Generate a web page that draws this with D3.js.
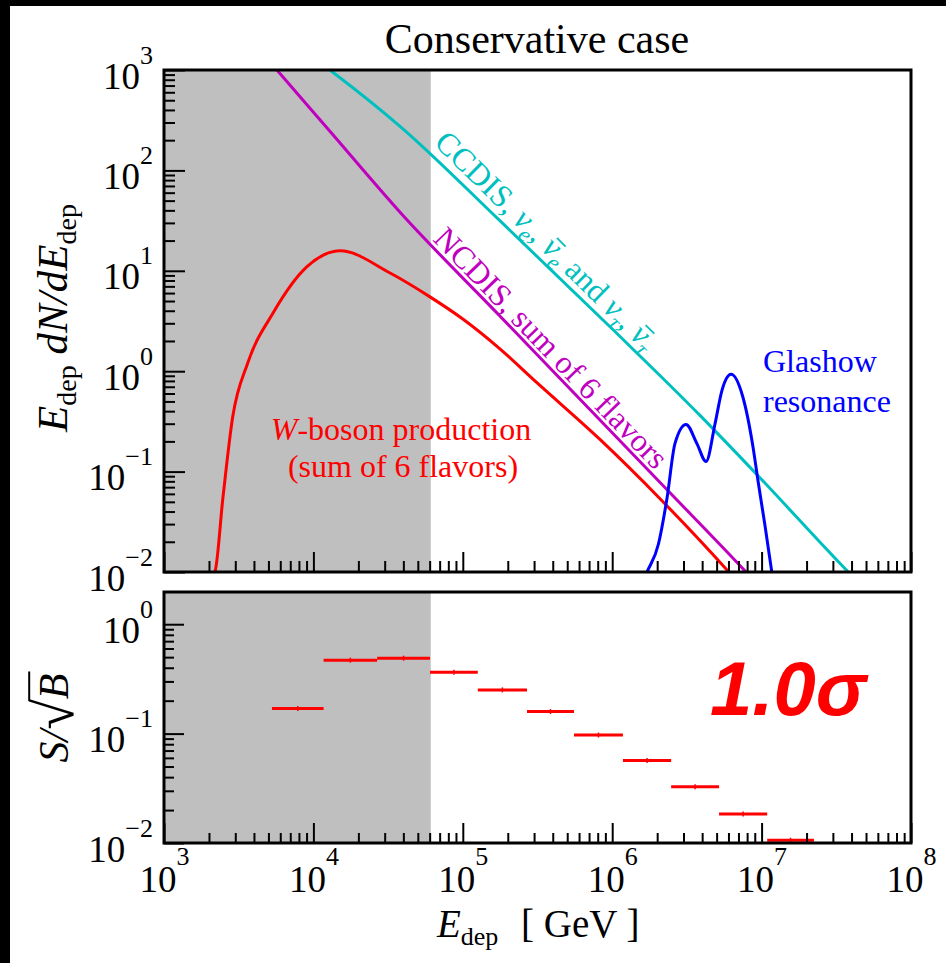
<!DOCTYPE html>
<html>
<head>
<meta charset="utf-8">
<script src="https://cdn.jsdelivr.net/npm/d3@7"></script>
<style>
  body { margin: 0; background: #fff; }
  svg { display: block; }
  text { font-family: "Liberation Serif", "Times New Roman", serif; }
</style>
</head>
<body>
<div id="chart"></div>
<script>
// ---- data ----
const xDecades = [1e3, 1e4, 1e5, 1e6, 1e7, 1e8];
const yTopDecades = [1e-2, 1e-1, 1e0, 1e1, 1e2, 1e3];
const yBotDecades = [1e-2, 1e-1, 1e0];
const shadeEnd = 6.1e4; // GeV, grey band upper edge

// CCDIS (nu_e, nubar_e, nu_tau, nubar_tau)
const ccdisE = [8.9e3, 1.29e4, 3.8e4, 1.77e5, 1.01e6, 3.87e6, 9.46e6, 3.8e7, 5.0e7];
const ccdisY = [1510, 1000, 275, 31.6, 2.6, 0.363, 0.091, 0.01, 0.0066];

// NCDIS, sum of 6 flavors
const ncdisE = [4.47e3, 5.7e3, 1.29e4, 3.8e4, 1.77e5, 2.33e6, 7.87e6, 1.0e7];
const ncdisY = [1510, 1000, 245, 38.3, 3.55, 0.066, 0.01, 0.0068];

// W-boson production
const wE = [1.41e3, 2.19e3, 2.48e3, 2.88e3, 3.63e3, 5.37e3, 9.06e3, 1.51e4, 3.26e4,
            6.03e4, 1.0e5, 1.78e5, 3.16e5, 8.28e5, 2.09e6, 6.03e6, 7.94e6];
const wY = [0.005, 0.01, 0.055, 0.347, 1.2, 3.8, 11.0, 15.8, 9.5,
            5.5, 3.31, 1.66, 0.759, 0.209, 0.0537, 0.01, 0.0063];

// Glashow resonance
const glE = [1.41e6, 1.71e6, 2.04e6, 2.33e6, 2.63e6, 3.12e6, 3.69e6, 4.25e6, 4.88e6,
             5.43e6, 6.24e6, 7.50e6, 8.77e6, 9.46e6, 1.05e7, 1.17e7, 1.26e7];
const glY = [0.005, 0.01, 0.019, 0.055, 0.19, 0.295, 0.19, 0.126, 0.30,
             0.645, 0.93, 0.55, 0.174, 0.081, 0.030, 0.01, 0.0045];

// S/sqrt(B) per bin
const binEdges = [5.28e3, 1.17e4, 2.67e4, 6.03e4, 1.26e5, 2.69e5, 5.55e5, 1.18e6,
                  2.48e6, 5.19e6, 1.09e7, 2.24e7];
const sOverSqrtB = [0.170, 0.469, 0.489, 0.364, 0.251, 0.159, 0.097, 0.0568,
                    0.0327, 0.0184, 0.0106];

// ---- layout ----
const width = 946, height = 963;
const left = 164, right = 911;
const top1 = 70, bottom1 = 572;
const top2 = 592, bottom2 = 843;

const svg = d3.select('#chart').append('svg')
  .attr('width', width).attr('height', height)
  .attr('viewBox', `0 0 ${width} ${height}`);

// black edges of the original screenshot
svg.append('rect').attr('x', 0).attr('y', 0).attr('width', width).attr('height', 6).attr('fill', '#000');
svg.append('rect').attr('x', 0).attr('y', 0).attr('width', 10).attr('height', height).attr('fill', '#000');

const x = d3.scaleLog().domain([1e3, 1e8]).range([left, right]);
const yTop = d3.scaleLog().domain([1e-2, 1e3]).range([bottom1, top1]);
const yBot = d3.scaleLog().domain([1e-2, 1.97]).range([bottom2, top2]);

const isDecade = v => Math.abs(Math.log10(v) - Math.round(Math.log10(v))) < 1e-9;

// grey band
[[top1, bottom1], [top2, bottom2]].forEach(([t, b]) => {
  svg.append('rect')
    .attr('x', x(1e3)).attr('y', t)
    .attr('width', x(shadeEnd) - x(1e3)).attr('height', b - t)
    .attr('fill', '#bfbfbf');
});

// clip for curves
svg.append('clipPath').attr('id', 'clipTop')
  .append('rect').attr('x', left).attr('y', top1)
  .attr('width', right - left).attr('height', bottom1 - top1);

const plotTop = svg.append('g').attr('clip-path', 'url(#clipTop)');

const curves = [
  { e: ccdisE, v: ccdisY, color: '#00bfbf' },
  { e: ncdisE, v: ncdisY, color: '#bf00bf' },
  { e: wE, v: wY, color: '#ff0000' },
  { e: glE, v: glY, color: '#0000ff' },
];

const line = d3.line()
  .x(d => x(d[0]))
  .y(d => yTop(d[1]))
  .curve(d3.curveMonotoneX);

curves.forEach(c => {
  plotTop.append('path')
    .datum(c.e.map((e, i) => [e, c.v[i]]))
    .attr('d', line)
    .attr('fill', 'none')
    .attr('stroke', c.color)
    .attr('stroke-width', 3);
});

// bottom panel bars
const bars = sOverSqrtB.map((v, i) => ({ lo: binEdges[i], hi: binEdges[i + 1], v }));
const barG = svg.append('g');
barG.selectAll('line.bar').data(bars).join('line')
  .attr('class', 'bar')
  .attr('x1', d => x(d.lo)).attr('x2', d => x(d.hi))
  .attr('y1', d => yBot(d.v)).attr('y2', d => yBot(d.v))
  .attr('stroke', '#ff0000').attr('stroke-width', 3);
barG.selectAll('line.err').data(bars).join('line')
  .attr('class', 'err')
  .attr('x1', d => x(Math.sqrt(d.lo * d.hi))).attr('x2', d => x(Math.sqrt(d.lo * d.hi)))
  .attr('y1', d => yBot(d.v) - 2.5).attr('y2', d => yBot(d.v) + 2.5)
  .attr('stroke', '#ff0000').attr('stroke-width', 1.5);

// ---- axes ----
function styleAxis(g) {
  g.select('.domain').remove();
  g.selectAll('.tick line').attr('stroke', '#000').attr('stroke-width', 2);
}

function powerLabels(g, anchor, baseDy, expRaise) {
  g.selectAll('.tick text').each(function (d) {
    const t = d3.select(this);
    const p = Math.round(Math.log10(d));
    t.text(null)
      .attr('fill', '#000')
      .attr('text-anchor', anchor)
      .attr('dy', null)
      .attr('y', anchor === 'middle' ? baseDy : null)
      .style('font-family', '"Liberation Serif", "Times New Roman", serif');
    if (anchor === 'end') t.attr('dy', baseDy);
    t.append('tspan').attr('font-size', 37).text('10');
    t.append('tspan').attr('font-size', 26).attr('dy', -expRaise)
      .text(p < 0 ? '\u2212' + Math.abs(p) : String(p));
  });
}

// top panel y
svg.append('g').attr('transform', `translate(${left},0)`)
  .call(d3.axisLeft(yTop).tickValues(yTop.ticks().filter(v => !isDecade(v)))
    .tickSize(-11).tickFormat(''))
  .call(styleAxis);
svg.append('g').attr('transform', `translate(${left},0)`)
  .call(d3.axisLeft(yTop).tickValues(yTopDecades).tickSize(-21).tickPadding(11))
  .call(styleAxis)
  .call(g => powerLabels(g, 'end', 18, 25));

// top panel x (ticks only)
svg.append('g').attr('transform', `translate(0,${bottom1})`)
  .call(d3.axisBottom(x).tickValues(x.ticks().filter(v => !isDecade(v)))
    .tickSize(-11).tickFormat(''))
  .call(styleAxis);
svg.append('g').attr('transform', `translate(0,${bottom1})`)
  .call(d3.axisBottom(x).tickValues(xDecades).tickSize(-20).tickFormat(''))
  .call(styleAxis);

// bottom panel y
svg.append('g').attr('transform', `translate(${left},0)`)
  .call(d3.axisLeft(yBot).tickValues(yBot.ticks().filter(v => !isDecade(v)))
    .tickSize(-10).tickFormat(''))
  .call(styleAxis);
svg.append('g').attr('transform', `translate(${left},0)`)
  .call(d3.axisLeft(yBot).tickValues(yBotDecades).tickSize(-20).tickPadding(11))
  .call(styleAxis)
  .call(g => powerLabels(g, 'end', 18, 25));

// bottom panel x
svg.append('g').attr('transform', `translate(0,${bottom2})`)
  .call(d3.axisBottom(x).tickValues(x.ticks().filter(v => !isDecade(v)))
    .tickSize(-10).tickFormat(''))
  .call(styleAxis);
svg.append('g').attr('transform', `translate(0,${bottom2})`)
  .call(d3.axisBottom(x).tickValues(xDecades).tickSize(-20))
  .call(styleAxis)
  .call(g => powerLabels(g, 'middle', 49, 27));

// frames
[[top1, bottom1], [top2, bottom2]].forEach(([t, b]) => {
  svg.append('rect')
    .attr('x', left).attr('y', t)
    .attr('width', right - left).attr('height', b - t)
    .attr('fill', 'none').attr('stroke', '#000').attr('stroke-width', 3);
});

// ---- texts ----
svg.append('text')
  .attr('x', 537).attr('y', 53)
  .attr('text-anchor', 'middle')
  .attr('font-size', 42)
  .text('Conservative case');

// x label
const xl = svg.append('text').attr('x', 437).attr('y', 937).attr('font-size', 39);
xl.append('tspan').attr('font-style', 'italic').text('E');
xl.append('tspan').attr('font-size', 26).attr('dy', 8).text('dep');
xl.append('tspan').attr('x', 521).attr('dy', -8).text('[ GeV ]');

// top y label
const yl = svg.append('text')
  .attr('transform', 'translate(67,318) rotate(-90)')
  .attr('text-anchor', 'middle')
  .attr('font-size', 43);
yl.append('tspan').attr('font-style', 'italic').text('E');
yl.append('tspan').attr('font-size', 28).attr('dy', 9).text('dep');
yl.append('tspan').attr('dy', -9).attr('font-style', 'italic').text(' dN/dE');
yl.append('tspan').attr('font-size', 28).attr('dy', 9).text('dep');

// bottom y label: S/sqrt(B)
const ylG = svg.append('g').attr('transform', 'translate(68,718) rotate(-90)');
const yl2 = ylG.append('text')
  .attr('text-anchor', 'middle')
  .attr('font-size', 42)
  .attr('font-style', 'italic');
yl2.append('tspan').text('S/');
yl2.append('tspan').attr('font-style', 'normal').attr('font-size', 56).attr('dy', 5).text('\u221A');
yl2.append('tspan').attr('dy', -5).text('B');
{
  const node = yl2.node();
  const n = node.getNumberOfChars();
  const b = node.getExtentOfChar(n - 1);
  const r = node.getExtentOfChar(n - 2);
  const yTopBar = r.y + 0.1 * r.height;
  ylG.append('line')
    .attr('x1', r.x + r.width - 2).attr('x2', b.x + b.width + 2)
    .attr('y1', yTopBar).attr('y2', yTopBar)
    .attr('stroke', '#000').attr('stroke-width', 2);
}

// curve annotations
function richText(g, parts, fontSize, color) {
  const t = g.append('text').attr('font-size', fontSize).attr('fill', color);
  const barred = [];
  let idx = 0, shift = 0;
  parts.forEach(p => {
    const ts = t.append('tspan').text(p.s);
    if (p.it) ts.attr('font-style', 'italic');
    const dy = (p.sub ? 7 : 0) - shift;
    if (dy) ts.attr('dy', dy);
    shift = p.sub ? 7 : 0;
    if (p.sub) ts.attr('font-size', fontSize * 0.69);
    if (p.bar) barred.push(idx);
    idx += p.s.length;
  });
  barred.forEach(i => {
    const e = t.node().getExtentOfChar(i);
    g.append('line')
      .attr('x1', e.x + 4).attr('x2', e.x + e.width + 2)
      .attr('y1', -fontSize * 0.62).attr('y2', -fontSize * 0.62)
      .attr('stroke', color).attr('stroke-width', 1.8);
  });
  return t;
}

const ccG = svg.append('g').attr('transform', 'translate(433,144) rotate(44.5)');
richText(ccG, [
  { s: 'CCDIS, ' },
  { s: '\u03BD', it: true }, { s: 'e', it: true, sub: true }, { s: ', ' },
  { s: '\u03BD', it: true, bar: true }, { s: 'e', it: true, sub: true }, { s: ' and ' },
  { s: '\u03BD', it: true }, { s: '\u03C4', it: true, sub: true }, { s: ', ' },
  { s: '\u03BD', it: true, bar: true }, { s: '\u03C4', it: true, sub: true },
], 32, '#00bfbf');

svg.append('text')
  .attr('transform', 'translate(432,240) rotate(46)')
  .attr('font-size', 32).attr('fill', '#bf00bf')
  .text('NCDIS, sum of 6 flavors');

svg.append('text').attr('x', 763).attr('y', 372)
  .attr('font-size', 32).attr('fill', '#0000ff').text('Glashow');
svg.append('text').attr('x', 763).attr('y', 412)
  .attr('font-size', 32).attr('fill', '#0000ff').text('resonance');

const wl = svg.append('text').attr('x', 401).attr('y', 440)
  .attr('text-anchor', 'middle').attr('font-size', 32).attr('fill', '#ff0000');
wl.append('tspan').attr('font-style', 'italic').text('W');
wl.append('tspan').text('-boson production');
svg.append('text').attr('x', 403).attr('y', 477)
  .attr('text-anchor', 'middle').attr('font-size', 32).attr('fill', '#ff0000')
  .text('(sum of 6 flavors)');

svg.append('text').attr('x', 710).attr('y', 715)
  .attr('font-size', 76).attr('font-weight', 'bold').attr('font-style', 'italic')
  .attr('fill', '#ff0000')
  .style('font-family', '"Liberation Sans", Arial, sans-serif')
  .text('1.0\u03C3');
</script>
</body>
</html>
